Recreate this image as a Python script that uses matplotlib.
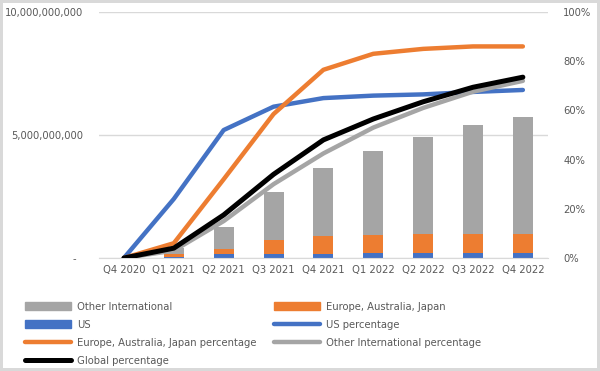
import matplotlib
matplotlib.use('Agg')
import matplotlib.pyplot as plt
from matplotlib.patches import Patch
from matplotlib.lines import Line2D
from matplotlib.ticker import FuncFormatter

plt.rcParams['font.family'] = ['DejaVu Sans']
plt.rcParams['font.stretch'] = 'condensed'

quarters = ['Q4 2020', 'Q1 2021', 'Q2 2021', 'Q3 2021', 'Q4 2021',
            'Q1 2022', 'Q2 2022', 'Q3 2022', 'Q4 2022']
us = [0, 0.05e9, 0.18e9, 0.18e9, 0.16e9, 0.2e9, 0.2e9, 0.2e9, 0.2e9]
eaj = [0, 0.1e9, 0.2e9, 0.54e9, 0.75e9, 0.75e9, 0.79e9, 0.79e9, 0.79e9]
other = [0, 0.25e9, 0.89e9, 1.95e9, 2.76e9, 3.4e9, 3.94e9, 4.42e9, 4.75e9]

us_pct = [0, 0.24, 0.52, 0.615, 0.65, 0.66, 0.665, 0.675, 0.683]
eaj_pct = [0, 0.06, 0.32, 0.585, 0.765, 0.83, 0.85, 0.86, 0.86]
other_pct = [0, 0.03, 0.15, 0.30, 0.425, 0.53, 0.61, 0.676, 0.72]
global_pct = [0, 0.04, 0.175, 0.34, 0.48, 0.565, 0.635, 0.694, 0.735]

blue = '#4472C4'
orange = '#ED7D31'
gray = '#A5A5A5'
txt = '#595959'

fig = plt.figure(figsize=(6, 3.71), dpi=100)
fig.patch.set_edgecolor('#D9D9D9')
fig.patch.set_linewidth(3)
ax = fig.add_axes([0.165, 0.3046, 0.748, 0.6631])
ax2 = ax.twinx()

x = list(range(len(quarters)))
b1 = [u + e for u, e in zip(us, eaj)]
ax.bar(x, us, width=0.4, color=blue, zorder=2)
ax.bar(x, eaj, width=0.4, bottom=us, color=orange, zorder=2)
ax.bar(x, other, width=0.4, bottom=b1, color=gray, zorder=2)

ax.set_ylim(0, 10e9)
ax.set_yticks([0, 5e9, 10e9])
ax.yaxis.set_major_formatter(FuncFormatter(lambda v, p: '-  ' if v == 0 else f'{v:,.0f}'))
ax.grid(axis='y', color='#D9D9D9', linewidth=1, zorder=0)
ax.set_xlim(-0.5, len(quarters) - 0.5)
ax.set_xticks(x)
ax.set_xticklabels(quarters)

ax2.plot(x, us_pct, color=blue, lw=3.2, solid_capstyle='round', solid_joinstyle='round')
ax2.plot(x, eaj_pct, color=orange, lw=3.2, solid_capstyle='round', solid_joinstyle='round')
ax2.plot(x, other_pct, color=gray, lw=3.2, solid_capstyle='round', solid_joinstyle='round')
ax2.plot(x, global_pct, color='black', lw=3.6, solid_capstyle='round', solid_joinstyle='round')
ax2.set_ylim(0, 1)
ax2.set_yticks([0, 0.2, 0.4, 0.6, 0.8, 1.0])
ax2.yaxis.set_major_formatter(FuncFormatter(lambda v, p: f'{v:.0%}'))

for a in (ax, ax2):
    for s in ['top', 'right', 'left']:
        a.spines[s].set_visible(False)
    a.tick_params(length=0, labelsize=8, colors=txt)
ax.spines['bottom'].set_color('#D9D9D9')
ax2.spines['bottom'].set_visible(False)
ax.tick_params(axis='y', pad=11.5)
ax.tick_params(axis='x', pad=5)
ax2.tick_params(axis='y', pad=11)

handles = [
    Patch(color=gray), Patch(color=blue),
    Line2D([], [], color=orange, lw=3.2, solid_capstyle='round'),
    Line2D([], [], color='black', lw=3.6, solid_capstyle='round'),
    Patch(color=orange),
    Line2D([], [], color=blue, lw=3.2, solid_capstyle='round'),
    Line2D([], [], color=gray, lw=3.2, solid_capstyle='round'),
]
labels = ['Other International', 'US', 'Europe, Australia, Japan percentage',
          'Global percentage', 'Europe, Australia, Japan', 'US percentage',
          'Other International percentage']
leg = fig.legend(handles, labels, ncol=2, loc='upper left',
                 bbox_to_anchor=(0.035, 0.198), frameon=False, fontsize=8,
                 handlelength=4.1, handleheight=0.65, handletextpad=0.55,
                 labelspacing=0.72, columnspacing=1.6, borderaxespad=0)
for t in leg.get_texts():
    t.set_color(txt)

fig.savefig('out.png', dpi=100, edgecolor=fig.get_edgecolor())
